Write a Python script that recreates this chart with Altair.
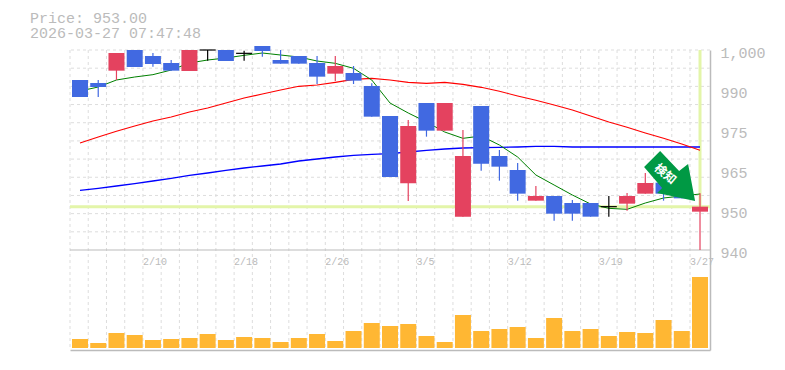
import altair as alt
import pandas as pd

FONT = "Liberation Mono"
GREY = "#bbbbbb"
GRID = "#dddddd"

open_ = [991, 990.1, 993.8, 1000, 998.2, 996.1, 993.7, 1000, 1000, 999, 1001.2, 997, 998.2, 996.1, 992.9,
         993.1, 989.2, 980.2, 960, 984.1, 975.8, 950, 983.2, 968.2, 964, 954.8, 956.2, 954.1, 954.1, 953,
         953.9, 956.9, 960.2, 958, 951.5]
close = [985.9, 988.9, 999.1, 994.9, 995.8, 993.8, 1000, 1000, 996.7, 999, 999.7, 995.9, 995.9, 992, 995.2,
         990.8, 980, 961.9, 977.2, 975.8, 984.1, 968.2, 965.9, 965, 956.9, 956.2, 950.9, 950.9, 950, 953,
         956.2, 960.1, 956.9, 955.5, 953]
high = [991, 991, 999.1, 1000, 999.1, 997, 1000, 1000, 1000, 999.8, 1001.2, 1000, 998.2, 998.2, 998.2,
        995.2, 990, 980.2, 979, 984.1, 984.1, 976, 983.2, 970, 966.1, 959.2, 956.2, 955, 954.1, 956.2,
        957.1, 963.1, 960.2, 958, 957]
low = [985.9, 985.9, 991, 994.9, 995, 993.8, 993.7, 996.8, 996.7, 996.8, 998, 995.9, 995.9, 989.8, 990.7,
       989.8, 980, 961.9, 954.7, 974, 975.8, 950, 963.8, 960.8, 954.8, 954.8, 948.8, 948.8, 950, 950,
       951.8, 956.9, 954.8, 955.5, 940]
ma_green = [987.7, 988.9, 991, 991.9, 992.6, 994, 996.1, 997, 997.6, 998.4, 999.1, 998.5, 997.9, 996.7, 996,
            994.5, 991, 984.1, 981.1, 978.4, 975.4, 973.5, 974.2, 971.5, 967.9, 962.5, 959.5, 956.5, 953.8,
            952.5, 952.2, 954.1, 955.6, 956.2, 956.8]
ma_red = [972.1, 973.9, 975.6, 977.2, 978.7, 979.9, 981.4, 982.6, 984.1, 985.6, 986.8, 988, 989.1, 989.5, 990.3,
          991.2, 991.5, 991, 990.3, 990, 990.3, 989.7, 988.8, 987.6, 986.2, 984.9, 983.5, 982, 980.2, 978.4,
          976.8, 975.1, 973.5, 971.8, 969.9]
ma_blue = [957.9, 958.5, 959.2, 959.9, 960.7, 961.5, 962.4, 963.1, 963.9, 964.6, 965.2, 965.8, 966.7, 967.3,
           967.9, 968.4, 968.7, 968.9, 969.4, 969.9, 970.3, 970.6, 970.7, 970.8, 970.9, 971.1, 971.1, 970.9,
           970.9, 970.9, 970.9, 970.9, 970.9, 970.9, 970.9]
volume = [9, 5, 15, 13, 8, 9, 10, 14, 8, 11, 10, 6, 10, 14, 7, 17, 25, 22, 24, 12, 6, 33, 17, 19, 21, 10, 30,
          17, 19, 12, 16, 15, 28, 17, 71]
date_slots = [4, 9, 14, 19, 24, 29, 34]
date_labels = ["2/10", "2/18", "2/26", "3/5", "3/12", "3/19", "3/27"]
tick_values = [1000, 988, 976, 964, 952, 940]
tick_labels = ["1,000", "990", "975", "965", "950", "940"]
last_price = 953

n = len(open_)
idx = list(range(n))
df = pd.DataFrame({"i": idx, "o": open_, "c": close, "h": high, "l": low, "v": volume, "b": [0] * n,
                   "green": ma_green, "red": ma_red, "blue": ma_blue})
df["top"] = df[["o", "c"]].max(axis=1)
df["bot"] = df[["o", "c"]].min(axis=1)
df["col"] = ["#000000" if o == c else ("#e4425f" if c > o else "#4169e1") for o, c in zip(open_, close)]
solid = df[df.o != df.c]
doji = df[df.o == df.c]

EDGE = 0.548
x_scale = alt.Scale(domain=[-EDGE, n - 1 + EDGE], nice=False, zero=False, padding=0)
p_scale = alt.Scale(domain=[910, 1000], nice=False, zero=False)
vol_scale = alt.Scale(domain=[-2, 298], nice=False, zero=False)

label_expr = "".join(f"datum.value=={v}?'{t}':" for v, t in zip(tick_values, tick_labels)) + "''"
x_enc = alt.X("i:Q", scale=x_scale, axis=alt.Axis(labels=False, ticks=False, grid=False, title=None,
                                                   domainColor=GREY, domainWidth=1.5))
y_enc = alt.Y("p:Q", scale=p_scale, axis=alt.Axis(orient="right", values=tick_values, labelExpr=label_expr,
                                                  labelFont=FONT, labelFontSize=15, labelColor=GREY,
                                                  labelOffset=2, labelPadding=10, ticks=False, grid=False,
                                                  title=None, domainColor=GREY, domainWidth=1.5, labelOverlap=False,
                                                  labelFlush=False))
xq = alt.X("i:Q", scale=x_scale)
def yq(f):
    return alt.Y(f"{f}:Q", scale=p_scale)

# frame and grid
hgrid = alt.Chart(pd.DataFrame({"p": [1000 - k * 60 / 11 for k in range(11)]})).mark_rule(
    color=GRID, strokeDash=[3, 3], strokeWidth=1).encode(y=y_enc)
vgrid = alt.Chart(pd.DataFrame({"i": [k - EDGE for k in idx]})).mark_rule(
    color=GRID, strokeDash=[3, 3], strokeWidth=1).encode(x=x_enc)
sep = alt.Chart(pd.DataFrame({"p": [940]})).mark_rule(color=GREY, strokeWidth=1.2).encode(y=yq("p"))

# current-price highlights
hi_h = alt.Chart(pd.DataFrame({"p": [last_price], "a": [-EDGE], "z": [n - 1 + EDGE]})).mark_rule(
    color="#e3f5a9", strokeWidth=3).encode(x=alt.X("a:Q", scale=x_scale), x2="z:Q", y=yq("p"))
hi_v = alt.Chart(pd.DataFrame({"i": [n - 1], "p": [1000], "q": [last_price]})).mark_rule(
    color="#e3f5a9", strokeWidth=3).encode(x=xq, y=yq("p"), y2="q:Q")

# moving averages
def ma(field, color, width):
    return alt.Chart(df).mark_line(color=color, strokeWidth=width, interpolate="linear").encode(x=xq, y=yq(field))

line_g = ma("green", "#008000", 1)
line_r = ma("red", "#ff0000", 1.1)
line_b = ma("blue", "#0000ff", 1.3)

color_enc = alt.Color("col:N", scale=None, legend=None)
wick = alt.Chart(df).mark_rule(strokeWidth=1.2).encode(x=xq, y=yq("h"), y2="l:Q", color=color_enc)
body = alt.Chart(solid).mark_bar(size=16).encode(x=xq, y=yq("top"), y2="bot:Q", color=color_enc)
doji_bar = alt.Chart(doji).mark_tick(orient="horizontal", size=16, thickness=1.2, color="#000000", opacity=1).encode(
    x=xq, y=yq("o"))

# arrow
arrow_path = "M-0.333,-0.833 L0.3,-0.167 L0.6,-0.4 L0.833,0.833 L-0.433,0.567 L-0.267,0.4 L-0.867,-0.3 Z"
arrow = alt.Chart(pd.DataFrame({"i": [32.36], "p": [962.2]})).mark_point(
    shape=arrow_path, size=3600, filled=True, fill="#009944", stroke=None, opacity=1).encode(x=xq, y=yq("p"))
arrow_text = alt.Chart(pd.DataFrame({"i": [32.1], "p": [962.8], "t": ["検知"]})).mark_text(
    font="Noto Sans CJK JP", fontSize=12, fontWeight="bold", color="#ffffff", angle=40).encode(
    x=xq, y=yq("p"), text="t:N")

# date labels
dates = alt.Chart(pd.DataFrame({"i": [s - EDGE for s in date_slots], "p": [936.4] * len(date_slots),
                                "t": date_labels})).mark_text(
    font=FONT, fontSize=10, color=GREY, align="left", baseline="middle").encode(x=xq, y=yq("p"), text="t:N")

price = alt.layer(vgrid, hgrid, sep, hi_h, hi_v, line_b, line_r, line_g, wick, body, doji_bar, arrow, arrow_text, dates)

vol = alt.Chart(df).mark_bar(size=16, color="#ffb733").encode(
    x=xq, y=alt.Y("v:Q", scale=vol_scale, axis=None), y2="b:Q")

chart = alt.layer(price, vol).resolve_scale(y="independent").properties(
    width=640, height=300,
    autosize=alt.AutoSizeParams(type="none"),
    padding={"left": 62, "top": 42, "right": 65, "bottom": 12},
    title=alt.TitleParams(text=["Price: 953.00", "2026-03-27 07:47:48"], anchor="start", frame="group",
                          dx=-40, offset=4, font=FONT, fontSize=15, fontWeight="normal", color=GREY,
                          lineHeight=15),
).configure_view(stroke=None)

chart.save("out.html", embed_options={"renderer": "svg", "actions": False})
